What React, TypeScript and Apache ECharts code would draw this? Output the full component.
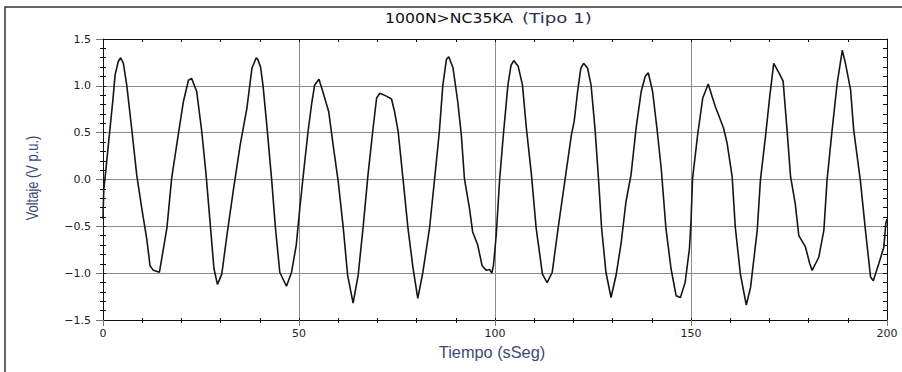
import React, { useEffect, useRef } from "react";
import * as echarts from "echarts";

const titleMain = "1000N>NC35KA";
const titleSub = "(Tipo 1)";
const xName = "Tiempo (sSeg)";
const yName = "Voltaje (V p.u.)";

const xTicks = [0, 50, 100, 150, 200];
const yTicks = [-1.5, -1.0, -0.5, 0.0, 0.5, 1.0, 1.5];

const time = [
  0, 0.2, 0.6, 1.2, 1.8, 2.5, 3.1, 3.9, 4.5, 5.2, 6.05, 7.3, 8.6, 9.9, 11.15, 12.0, 12.85, 14.4, 15.4, 16.3,
  17.5, 19.2, 20.5, 21.8, 22.6, 23.9, 25.2, 26.3, 27.3, 28.3, 29.2, 30.3, 31.6, 33.3, 35.0, 36.7, 38.0, 39.1,
  39.5, 40.2, 40.8, 41.7, 43.0, 44.0, 45.1, 46.8, 48.1, 49.3, 50.2, 51.1, 52.3, 53.3, 54.0, 55.1, 56.2, 57.6,
  58.7, 60.0, 61.3, 62.4, 63.8, 65.1, 66.4, 67.6, 68.9, 69.8, 70.6, 72.3, 73.6, 74.4, 75.3, 76.6, 77.8, 79.1,
  80.3, 81.6, 83.3, 84.6, 85.8, 86.7, 87.6, 88.2, 89.3, 90.5, 91.4, 92.2, 93.5, 94.3, 95.6, 96.7, 97.8, 98.6,
  99.2, 99.6, 100.3, 101.2, 102.2, 103.3, 104.1, 104.8, 105.9, 107.0, 108.0, 109.3, 110.5, 112.1, 113.3, 114.6,
  116.1, 117.8, 119.5, 120.2, 121.1, 121.9, 122.6, 123.6, 124.5, 125.5, 126.4, 127.2, 128.3, 129.6, 130.9,
  132.2, 133.4, 134.7, 136.0, 137.3, 138.3, 139.1, 140.2, 141.3, 142.4, 143.6, 144.9, 146.2, 147.3, 148.5,
  149.6, 150.0, 150.4, 151.7, 153.0, 154.4, 155.5, 156.2, 158.3, 159.2, 160.5, 161.3, 162.6, 164.1, 165.2,
  166.9, 167.7, 169.0, 170.1, 171.1, 172.4, 173.5, 174.5, 175.4, 176.6, 177.5, 179.2, 180.3, 180.9, 182.6,
  183.9, 184.7, 186.0, 187.3, 188.6, 189.4, 190.7, 191.5, 193.2, 194.5, 195.8, 196.5, 197.9, 199.2, 199.7, 200,
];

const voltage = [
  -0.42, -0.1, 0.05, 0.3, 0.55, 0.84, 1.12, 1.26, 1.3, 1.24, 1.01, 0.55, 0.05, -0.31, -0.63, -0.92, -0.97, -0.99, -0.74, -0.52,
  0.01, 0.48, 0.83, 1.06, 1.08, 0.94, 0.51, 0.05, -0.45, -0.95, -1.12, -1.01, -0.6, -0.1, 0.37, 0.76, 1.19, 1.3,
  1.28, 1.2, 1.01, 0.62, 0.01, -0.52, -0.99, -1.14, -0.99, -0.7, -0.31, 0.05, 0.51, 0.83, 1.01, 1.07, 0.92, 0.72,
  0.37, -0.02, -0.52, -1.02, -1.32, -1.02, -0.49, 0.05, 0.55, 0.87, 0.92, 0.89, 0.86, 0.72, 0.51, -0.02, -0.52, -0.95,
  -1.27, -0.99, -0.52, 0.01, 0.51, 1.01, 1.28, 1.31, 1.19, 0.83, 0.48, 0.01, -0.31, -0.56, -0.7, -0.92, -0.97, -0.96,
  -1.0, -0.92, -0.6, 0.01, 0.51, 1.01, 1.22, 1.27, 1.21, 1.01, 0.55, 0.05, -0.52, -1.01, -1.1, -0.99,
  -0.52, -0.02, 0.48, 0.62, 0.95, 1.19, 1.24, 1.19, 1.01, 0.55, 0.01, -0.52, -0.99, -1.26, -1.02,
  -0.67, -0.24, 0.05, 0.55, 0.94, 1.1, 1.14, 0.94, 0.55, 0.12, -0.52, -0.95, -1.24, -1.26, -1.1,
  -0.74, -0.45, 0.01, 0.48, 0.87, 1.02, 0.87, 0.78, 0.55, 0.39, 0.03, -0.51, -1.01, -1.34, -1.15,
  -0.54, -0.01, 0.46, 0.89, 1.24, 1.14, 1.05, 0.53, 0.03, -0.26, -0.6, -0.72, -0.9, -0.97, -0.83,
  -0.54, -0.01, 0.53, 1.03, 1.38, 1.24, 0.96, 0.53, -0.01, -0.54, -1.04, -1.08, -0.9, -0.72, -0.47, -0.42,
];

const GRID = { left: 103, right: 15, top: 39, bottom: 52 };
const tickFont = "DejaVu Sans";
const nameColor = "#3b4a78";

export default function App() {
  const ref = useRef<HTMLDivElement>(null);

  useEffect(() => {
    if (!ref.current) return;
    const chart = echarts.init(ref.current, undefined, { renderer: "svg" });
    const data = time.map((t, i) => [t, voltage[i]]);
    const xMin = xTicks[0];
    const xMax = xTicks[xTicks.length - 1];
    const xInt = xTicks[1] - xTicks[0];
    const yMin = yTicks[0];
    const yMax = yTicks[yTicks.length - 1];
    const yInt = yTicks[1] - yTicks[0];
    const black = "#111";

    const hiddenLabel = { show: false };
    chart.setOption({
      animation: false,
      backgroundColor: "#fff",
      graphic: [
        {
          type: "rect",
          shape: { x: 5, y: 7, width: 920, height: 400 },
          style: { fill: "none", stroke: "#333", lineWidth: 1.5 },
          silent: true,
        },
        {
          type: "text",
          x: 385,
          y: 18,
          scaleX: 1.12,
          style: {
            text: titleMain,
            font: "14px 'DejaVu Sans'",
            fill: "#111",
            textAlign: "left",
            textVerticalAlign: "middle",
          },
        },
        {
          type: "text",
          x: 522,
          y: 18,
          scaleX: 1.3,
          style: {
            text: titleSub,
            font: "14px 'DejaVu Sans'",
            fill: "#2a3350",
            textAlign: "left",
            textVerticalAlign: "middle",
          },
        },
        {
          type: "text",
          x: 492,
          y: 352,
          scaleX: 0.96,
          style: {
            text: xName,
            font: "17px 'Liberation Sans'",
            fill: nameColor,
            textAlign: "center",
            textVerticalAlign: "middle",
          },
        },
        {
          type: "text",
          x: 32,
          y: 178,
          rotation: Math.PI / 2,
          scaleX: 0.76,
          style: {
            text: yName,
            font: "17px 'Liberation Sans'",
            fill: nameColor,
            textAlign: "center",
            textVerticalAlign: "middle",
          },
        },
      ],
      grid: [
        { ...GRID, containLabel: false },
        { ...GRID, containLabel: false },
      ],
      xAxis: [
        {
          type: "value",
          gridIndex: 0,
          position: "bottom",
          min: xMin,
          max: xMax,
          interval: xInt,
          axisLine: { show: true, onZero: false, lineStyle: { color: black, width: 1 } },
          axisTick: { show: true, inside: false, length: 6, lineStyle: { color: "#777" } },
          minorTick: { show: true, splitNumber: 5, length: 3, lineStyle: { color: black } },
          axisLabel: { fontFamily: tickFont, fontSize: 11, color: "#222", margin: 8 },
          splitLine: { show: true, lineStyle: { color: "#8a8a8a", width: 1 } },
        },
        {
          type: "value",
          gridIndex: 0,
          position: "top",
          min: xMin,
          max: xMax,
          interval: xInt,
          axisLine: { show: true, onZero: false, lineStyle: { color: black, width: 1 } },
          axisTick: { show: true, inside: true, length: 3, lineStyle: { color: black } },
          minorTick: { show: true, splitNumber: 5, length: 3, lineStyle: { color: black } },
          axisLabel: hiddenLabel,
          splitLine: { show: false },
        },
        {
          type: "value",
          gridIndex: 1,
          position: "bottom",
          min: xMin,
          max: xMax,
          interval: xInt,
          axisLine: { show: false, onZero: false },
          axisTick: { show: true, inside: true, length: 2, lineStyle: { color: black } },
          minorTick: { show: true, splitNumber: 5, length: 2, lineStyle: { color: black } },
          axisLabel: hiddenLabel,
          splitLine: { show: false },
        },
      ],
      yAxis: [
        {
          type: "value",
          gridIndex: 0,
          position: "left",
          min: yMin,
          max: yMax,
          interval: yInt,
          axisLine: { show: true, onZero: false, lineStyle: { color: black, width: 1 } },
          axisTick: { show: true, inside: false, length: 7, lineStyle: { color: "#777" } },
          minorTick: { show: true, splitNumber: 5, length: 3, lineStyle: { color: black } },
          axisLabel: {
            fontFamily: tickFont,
            fontSize: 11,
            color: "#222",
            margin: 12,
            formatter: (v: number) => (v < 0 ? "\u2212" : "") + Math.abs(v).toFixed(1),
          },
          splitLine: { show: true, lineStyle: { color: "#8a8a8a", width: 1 } },
        },
        {
          type: "value",
          gridIndex: 0,
          position: "right",
          min: yMin,
          max: yMax,
          interval: yInt,
          axisLine: { show: true, onZero: false, lineStyle: { color: black, width: 1 } },
          axisTick: { show: true, inside: true, length: 4, lineStyle: { color: black } },
          minorTick: { show: true, splitNumber: 5, length: 4, lineStyle: { color: black } },
          axisLabel: hiddenLabel,
          splitLine: { show: false },
        },
        {
          type: "value",
          gridIndex: 1,
          position: "left",
          min: yMin,
          max: yMax,
          interval: yInt,
          axisLine: { show: false, onZero: false },
          axisTick: { show: true, inside: true, length: 3, lineStyle: { color: black } },
          minorTick: { show: true, splitNumber: 5, length: 3, lineStyle: { color: black } },
          axisLabel: hiddenLabel,
          splitLine: { show: false },
        },
      ],
      series: [
        {
          type: "line",
          xAxisIndex: 0,
          yAxisIndex: 0,
          data,
          showSymbol: false,
          symbol: "none",
          lineStyle: { color: "#151515", width: 1.6 },
          z: 5,
        },
      ],
    });
    return () => chart.dispose();
  }, []);

  return (
    <div
      ref={ref}
      style={{ position: "fixed", left: 0, top: 0, width: 902, height: 372 }}
    />
  );
}
